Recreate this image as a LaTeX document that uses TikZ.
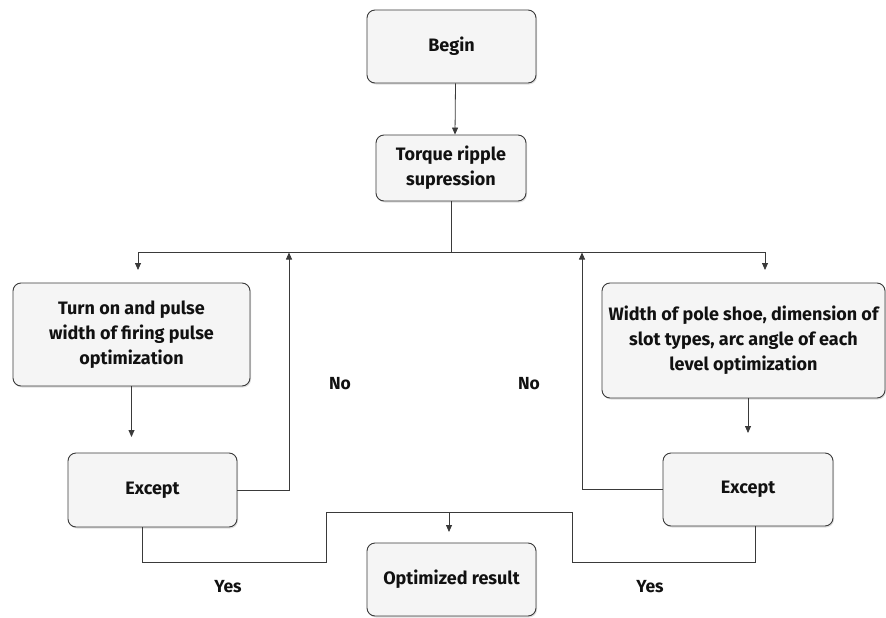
\documentclass[tikz,border=0pt]{standalone}
\usepackage{fontspec}
\setmainfont{Fira Sans}
\usetikzlibrary{arrows.meta,shadows}
\definecolor{boxfill}{HTML}{F5F5F5}
\definecolor{boxline}{HTML}{3A3A3A}
\definecolor{txt}{HTML}{111111}
\begin{document}
\begin{tikzpicture}[x=1pt,y=-1pt,
  box/.style={draw=boxline, line width=0.9pt, fill=boxfill, rounded corners=8pt,
    drop shadow={opacity=0.25, shadow xshift=1pt, shadow yshift=-1.5pt},
    align=center, text=txt, font=\bfseries\fontsize{18}{25}\selectfont, inner sep=0pt},
  conn/.style={draw=boxline, line width=0.8pt},
  arr/.style={conn, -{Triangle[width=6pt,length=7pt]}},
  lbl/.style={text=txt, font=\bfseries\fontsize{17.5}{20}\selectfont}]
\useasboundingbox (0,0) rectangle (886,618);
% nodes
\node[box, minimum width=169pt, minimum height=73pt] (begin) at (451.5,46.5) {Begin};
\node[box, minimum width=150pt, minimum height=66pt] (torque) at (451,168) {Torque ripple\\supression};
\node[box, minimum width=237pt, minimum height=103pt] (turnon) at (131.5,334.5) {Turn on and pulse\\width of firing pulse\\optimization};
\node[box, minimum width=169pt, minimum height=74pt, font=\bfseries\fontsize{18}{22}\selectfont] (exceptL) at (152.5,490) {Except};
\node[box, minimum width=283pt, minimum height=115pt] (width) at (743.5,340.5) {Width of pole shoe, dimension of\\slot types, arc angle of each\\level optimization};
\node[box, minimum width=170pt, minimum height=73pt, font=\bfseries\fontsize{18}{22}\selectfont] (exceptR) at (748,489.5) {Except};
\node[box, minimum width=169pt, minimum height=73pt] (opt) at (451.5,579.5) {Optimized result};
% labels
\node[lbl] (noL) at (340,384) {No};
\node[lbl] (noR) at (529,384) {No};
\node[lbl] (yesL) at (228,587) {Yes};
\node[lbl] (yesR) at (650,587) {Yes};
% coordinates
\coordinate (hl) at (138,252);
\coordinate (hr) at (765,252);
\coordinate (aL) at (138,270);
\coordinate (aR) at (765,270);
\coordinate (uL) at (289,252.5);
\coordinate (uR) at (582,252.5);
\coordinate (dL) at (131.5,437);
\coordinate (dR) at (748,433);
\coordinate (b1) at (326,562);
\coordinate (b2) at (572,512);
\coordinate (b3) at (755,562);
\coordinate (mtop) at (449,512);
\coordinate (mend) at (449,532);
% connectors
\draw[arr] ([xshift=4pt]begin.south) -- ([xshift=4pt]torque.north);
\draw[arr] (torque.south) |- (hl) -- (aL);
\draw[arr] (torque.south) |- (hr) -- (aR);
\draw[arr] (turnon.south) -- (dL);
\draw[arr] (width.south -| dR) -- (dR);
\draw[arr] (exceptL.east) -| (uL);
\draw[arr] (exceptR.west) -| (uR);
\draw[conn] ([xshift=-10pt]exceptL.south) |- (b1) |- (b2) |- (b3) -- ([xshift=7pt]exceptR.south);
\draw[arr] (mtop) -- (mend);
\end{tikzpicture}
\end{document}
